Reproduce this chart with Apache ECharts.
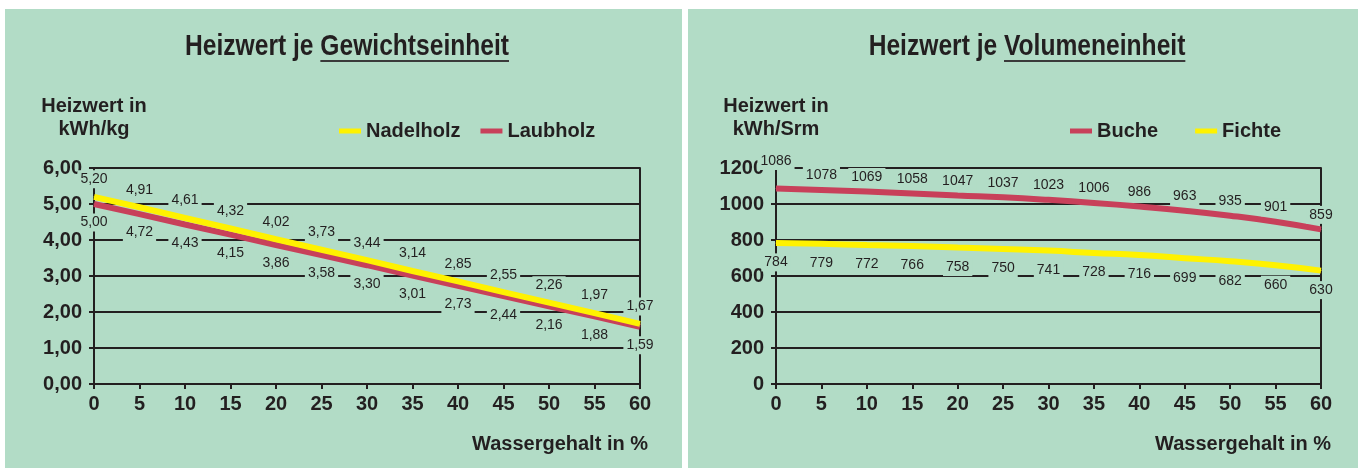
<!DOCTYPE html>
<html>
<head>
<meta charset="utf-8">
<script src="https://cdn.jsdelivr.net/npm/echarts@6/dist/echarts.min.js"></script>
<style>
  html, body { margin: 0; padding: 0; background: #fff; }
  .panel { position: absolute; top: 9px; height: 459px; background: #b2dcc6; }
  #left { left: 5px; width: 677px; }
  #right { left: 688px; width: 670px; }
</style>
</head>
<body>
<div id="left" class="panel"></div>
<div id="right" class="panel"></div>
<script>
// Wassergehalt in % (x axis)
const waterContent = ['0', '5', '10', '15', '20', '25', '30', '35', '40', '45', '50', '55', '60']

// Heizwert je Gewichtseinheit, kWh/kg
const nadelholz = [5.20, 4.91, 4.61, 4.32, 4.02, 3.73, 3.44, 3.14, 2.85, 2.55, 2.26, 1.97, 1.67]
const laubholz = [5.00, 4.72, 4.43, 4.15, 3.86, 3.58, 3.30, 3.01, 2.73, 2.44, 2.16, 1.88, 1.59]

// Heizwert je Volumeneinheit, kWh/Srm
const buche = [1086, 1078, 1069, 1058, 1047, 1037, 1023, 1006, 986, 963, 935, 901, 859]
const fichte = [784, 779, 772, 766, 758, 750, 741, 728, 716, 699, 682, 660, 630]

const GREEN = '#b2dcc6'
const INK = '#231f20'
const YELLOW = '#fff200'
const RED = '#c8405a'
const FONT = "'Liberation Sans', Arial, sans-serif"
const SQUEEZE = 0.82 // fake a condensed face for the titles

const measureCtx = document.createElement('canvas').getContext('2d')
function textWidth(text, font) {
  measureCtx.font = font
  return measureCtx.measureText(text).width * SQUEEZE
}

// title with underlined second part
function titleGraphic(cx, cy, plain, underlined) {
  const font = 'bold 30px ' + FONT
  const w1 = textWidth(plain, font)
  const w2 = textWidth(underlined, font)
  const x0 = cx - (w1 + w2) / 2
  const txt = (x, text) => ({
    type: 'text', x, y: cy, scaleX: SQUEEZE,
    style: { text, font, fill: INK, textAlign: 'left', textVerticalAlign: 'middle' }
  })
  return [
    txt(x0, plain),
    txt(x0 + w1, underlined),
    { type: 'line', shape: { x1: x0 + w1, y1: cy + 14, x2: x0 + w1 + w2, y2: cy + 14 }, style: { stroke: '#3a3a3a', lineWidth: 2 } }
  ]
}

function valueLabel(position, distance, formatter) {
  return {
    show: true,
    position,
    distance,
    formatter: p => formatter(p.value),
    fontFamily: FONT,
    fontSize: 14,
    color: INK,
    backgroundColor: GREEN,
    padding: [2, 3]
  }
}

function buildOption(cfg) {
  return {
    animation: false,
    graphic: titleGraphic(cfg.titleX, 38, 'Heizwert je ', cfg.titleU).concat([{
      type: 'text', x: 643, y: 435,
      style: { text: 'Wassergehalt in %', font: 'bold 20px ' + FONT, fill: INK, textAlign: 'right', textVerticalAlign: 'middle' }
    }]),
    legend: {
      left: cfg.legendLeft,
      top: 107,
      icon: 'rect',
      itemWidth: 22,
      itemHeight: 5,
      itemGap: cfg.legendGap,
      data: cfg.legendData,
      textStyle: { fontFamily: FONT, fontWeight: 'bold', fontSize: 20, color: INK }
    },
    grid: { left: cfg.gridLeft, top: 159, width: cfg.gridWidth, height: 216 },
    xAxis: {
      type: 'category',
      data: waterContent,
      boundaryGap: false,
      axisLine: { lineStyle: { color: INK, width: 2 } },
      axisTick: { alignWithLabel: true, length: 5, lineStyle: { color: INK, width: 2 } },
      axisLabel: { margin: 10, fontFamily: FONT, fontWeight: 'bold', fontSize: 20, color: INK },
      splitLine: { show: false }
    },
    yAxis: [{
      type: 'value',
      min: 0,
      max: cfg.yMax,
      interval: cfg.yStep,
      name: cfg.yName,
      nameLocation: 'end',
      nameGap: 27,
      nameTextStyle: { fontFamily: FONT, fontWeight: 'bold', fontSize: 20, lineHeight: 23, color: INK, align: 'center' },
      axisLine: { show: true, lineStyle: { color: INK, width: 2 } },
      axisTick: { show: true, length: 5, lineStyle: { color: INK, width: 2 } },
      axisLabel: { margin: 12, formatter: cfg.yFormat, fontFamily: FONT, fontWeight: 'bold', fontSize: 20, color: INK },
      splitLine: { show: true, lineStyle: { color: INK, width: 2 } }
    }, {
      type: 'value',
      min: 0,
      max: cfg.yMax,
      interval: cfg.yStep,
      position: 'right',
      axisLine: { show: true, lineStyle: { color: INK, width: 2 } },
      axisTick: { show: false },
      axisLabel: { show: false },
      splitLine: { show: false }
    }],
    series: cfg.series
  }
}

function lineSeries(name, data, color, label, smooth, z) {
  return {
    name,
    type: 'line',
    data,
    smooth,
    z,
    symbol: 'circle',
    symbolSize: 1,
    itemStyle: { color },
    lineStyle: { color, width: 6 },
    label
  }
}

const fmtKg = v => v.toFixed(2).replace('.', ',')
const fmtSrm = v => String(v)

const leftChart = echarts.init(document.getElementById('left'), null, { renderer: 'canvas' })
leftChart.setOption(buildOption({
  titleX: 342,
  titleU: 'Gewichtseinheit',
  legendLeft: 329,
  legendGap: 20,
  legendData: ['Nadelholz', 'Laubholz'],
  gridLeft: 89,
  gridWidth: 546,
  yMax: 6,
  yStep: 1,
  yName: 'Heizwert in\nkWh/kg',
  yFormat: fmtKg,
  series: [
    lineSeries('Laubholz', laubholz, RED, valueLabel('bottom', 9, fmtKg), false, 2),
    lineSeries('Nadelholz', nadelholz, YELLOW, valueLabel('top', 8, fmtKg), false, 3)
  ]
}))

const rightChart = echarts.init(document.getElementById('right'), null, { renderer: 'canvas' })
rightChart.setOption(buildOption({
  titleX: 339,
  titleU: 'Volumeneinheit',
  legendLeft: 377,
  legendGap: 37,
  legendData: ['Buche', 'Fichte'],
  gridLeft: 88,
  gridWidth: 545,
  yMax: 1200,
  yStep: 200,
  yName: 'Heizwert in\nkWh/Srm',
  yFormat: fmtSrm,
  series: [
    lineSeries('Buche', buche.map((v, i) => i === 0 ? { value: v, label: { distance: 18 } } : v),
      RED, valueLabel('top', 5, fmtSrm), true, 2),
    lineSeries('Fichte', fichte, YELLOW, valueLabel('bottom', 10, fmtSrm), true, 2)
  ]
}))
</script>
</body>
</html>
